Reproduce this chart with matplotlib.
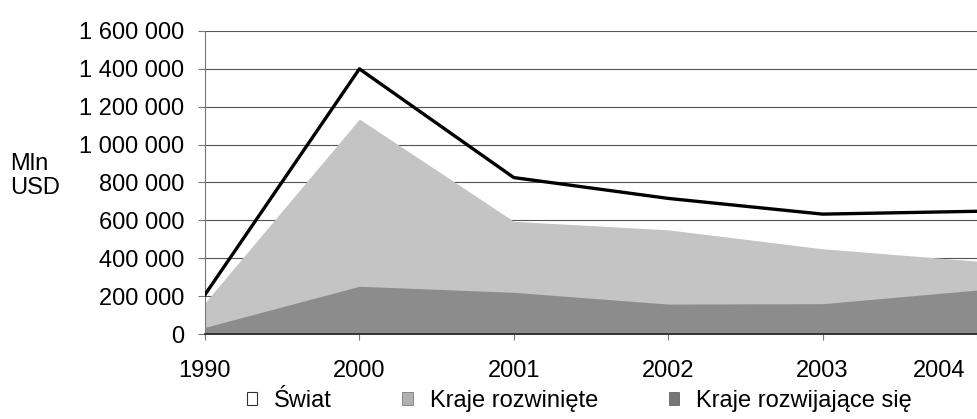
import matplotlib
matplotlib.use("Agg")
import matplotlib.pyplot as plt
from matplotlib.patches import Patch
from matplotlib.ticker import FuncFormatter
from matplotlib.transforms import ScaledTranslation

years = ["1990", "2000", "2001", "2002", "2003", "2004"]
swiat = [208000, 1400000, 826000, 716000, 633000, 648000]
rozwiniete = [165000, 1135000, 595000, 550000, 450000, 385000]
rozwijajace = [35000, 252000, 220000, 158000, 160000, 232000]
yticks = [0, 200000, 400000, 600000, 800000, 1000000, 1200000, 1400000, 1600000]

plt.rcParams['font.family'] = ['Liberation Sans', 'DejaVu Sans']

fig = plt.figure(figsize=(9.77, 4.19), dpi=100)
fig.patch.set_facecolor('white')
top_px, bot_px = 31, 334
ax = fig.add_axes([205/977, 1 - bot_px/419, 1 - 205/977, (bot_px - top_px)/419])

x = list(range(len(years)))
ax.fill_between(x, 0, rozwiniete, color='#c4c4c4', linewidth=0, zorder=2)
ax.fill_between(x, 0, rozwijajace, color='#8c8c8c', linewidth=0, zorder=3)
ax.plot(x, swiat, color='black', linewidth=2.4, zorder=4)

ax.set_xlim(0, 4.96)
ax.set_ylim(0, 1600000)
ax.set_yticks(yticks)
ax.yaxis.set_major_formatter(FuncFormatter(lambda v, p: f"{int(v):,}".replace(",", " ")))
ax.set_xticks(x)
ax.set_xticklabels(years)
ax.grid(axis='y', color='#555555', linewidth=0.8, zorder=1)
ax.set_axisbelow(True)
for s in ['top', 'right']:
    ax.spines[s].set_visible(False)
ax.spines['left'].set_color('#777777')
ax.spines['left'].set_linewidth(0.8)
ax.spines['bottom'].set_color('#222222')
ax.spines['bottom'].set_linewidth(1.2)
ax.spines['bottom'].set_zorder(5)
ax.tick_params(axis='y', labelsize=17, length=5, color='#777777', pad=10)
ax.tick_params(axis='x', labelsize=17, length=4, color='#777777', pad=15)
ax.set_facecolor('white')
last = ax.get_xticklabels()[-1]
last.set_transform(last.get_transform() + ScaledTranslation(-0.38, 0, fig.dpi_scale_trans))

fig.text(10/977, 1 - 176/419, "Mln\nUSD", fontsize=17, ha='left', va='center', linespacing=1.15)

handles = [Patch(facecolor='white', edgecolor='#333333', linewidth=0.8, label='Świat'),
           Patch(facecolor='#b0b0b0', edgecolor='#666666', linewidth=0.5, label='Kraje rozwinięte'),
           Patch(facecolor='#777777', edgecolor='#555555', linewidth=0.5, label='Kraje rozwijające się')]
fig.legend(handles=handles, loc='center', bbox_to_anchor=(579/977, 1 - 401/419), ncol=3,
           frameon=False, fontsize=17, handlelength=0.45, handleheight=0.45,
           handletextpad=0.7, columnspacing=3.0, borderpad=0.1)

fig.savefig("out.png", dpi=100, facecolor='white')
